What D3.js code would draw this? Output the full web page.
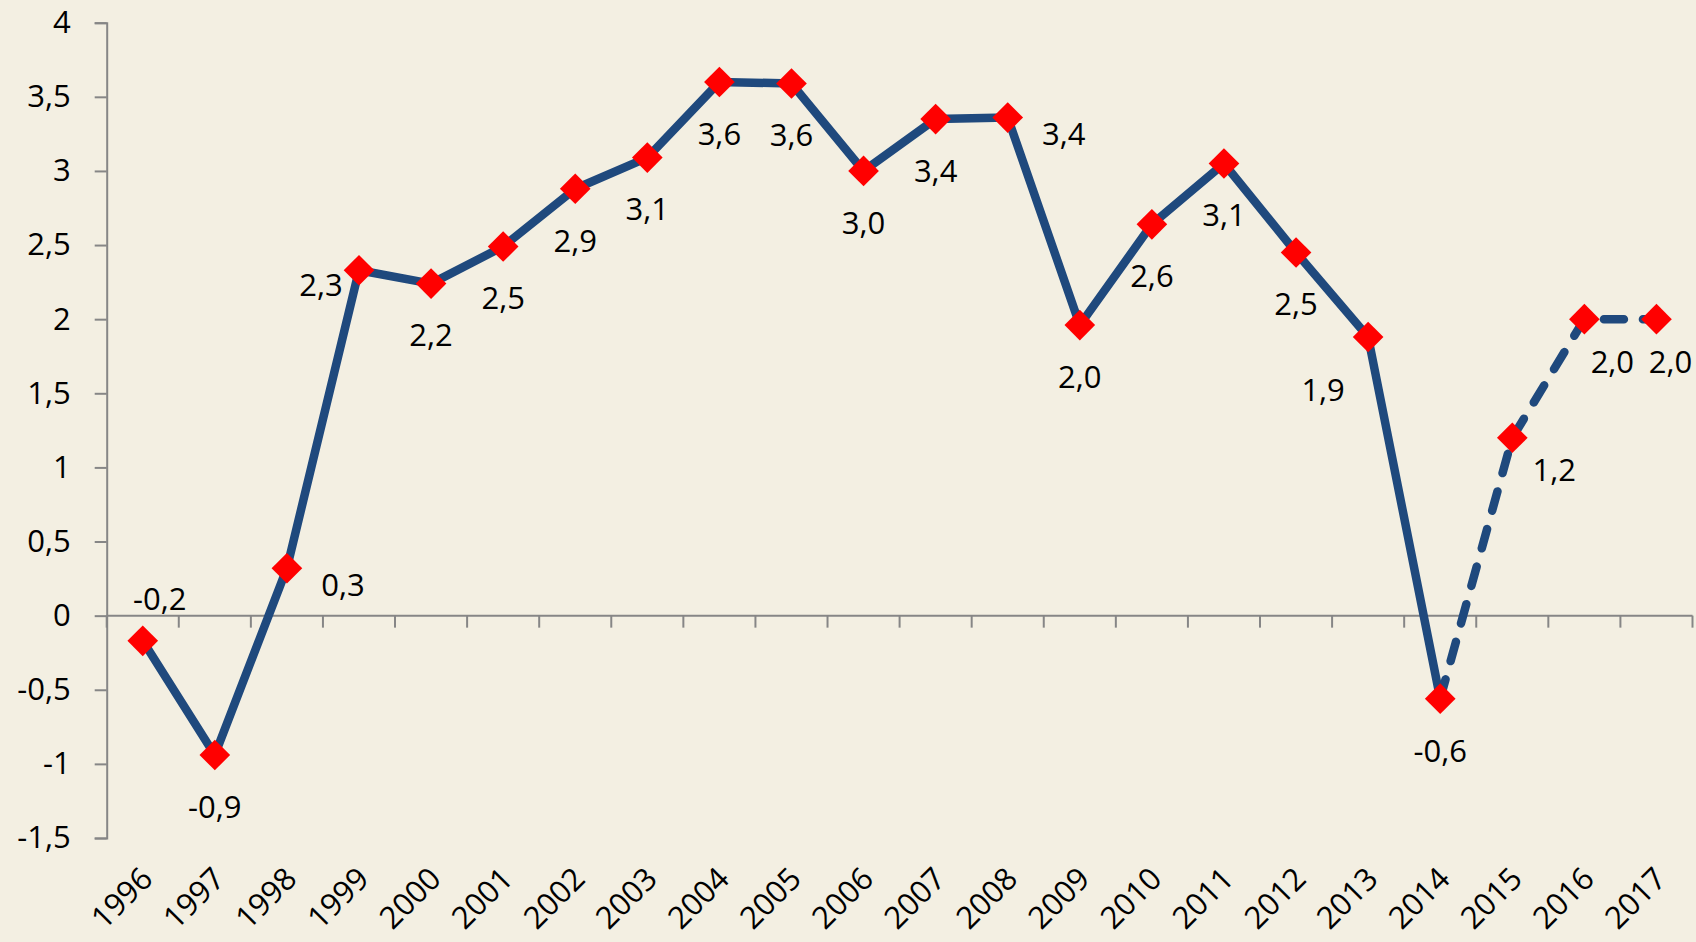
<!DOCTYPE html>
<html>
<head>
    <meta charset="utf-8">
    <title>Line chart 1996-2017</title>
    <script src="https://cdn.jsdelivr.net/npm/d3@7"></script>
    <style>
        body { margin: 0; background: #f3efe2; }
        svg { display: block; }
        text { font-family: "Open Sans", "Liberation Sans", sans-serif; fill: #000; }
    </style>
</head>
<body>
<svg id="chart" width="1696" height="942"></svg>
<script>
// data
let years = ["1996","1997","1998","1999","2000","2001","2002","2003","2004","2005","2006",
             "2007","2008","2009","2010","2011","2012","2013","2014","2015","2016","2017"]
let values = [-0.17, -0.94, 0.32, 2.33, 2.24, 2.49, 2.88, 3.09, 3.60, 3.59, 3.00,
              3.35, 3.36, 1.96, 2.64, 3.05, 2.45, 1.88, -0.56, 1.20, 2.00, 2.00]
let labels = ["-0,2","-0,9","0,3","2,3","2,2","2,5","2,9","3,1","3,6","3,6","3,0",
              "3,4","3,4","2,0","2,6","3,1","2,5","1,9","-0,6","1,2","2,0","2,0"]
// where each data label sits relative to its marker
let labelPlace = ["aboveRight","below","right","left","below","below","below","below","below","below","below",
                  "below","right","below","below","below","below","belowLeft","below","belowRight","belowRight2","belowRight3"]
let forecastFrom = "2014"   // dashed line starts here
let yTicks = [-1.5, -1, -0.5, 0, 0.5, 1, 1.5, 2, 2.5, 3, 3.5, 4]

let svg = d3.select("#chart")
let fontSize = 31
let lineColor = "#1f497d"
let axisColor = "#868686"

let x = d3.scaleBand().domain(years).range([106.7, 1692.5]).padding(0)
let y = d3.scaleLinear().domain([-1.5, 4]).range([838, 22.7])
let cx = d => x(d) + x.bandwidth() / 2

// y axis
let yAxis = svg.append("g")
    .attr("transform", "translate(106.7,0)")
    .call(d3.axisLeft(y).tickValues(yTicks).tickSizeOuter(0).tickSize(12).tickPadding(24)
        .tickFormat(d => String(d).replace(".", ",")))
yAxis.select(".domain").attr("stroke", axisColor).attr("stroke-width", 2)
yAxis.selectAll(".tick line").attr("stroke", axisColor).attr("stroke-width", 2)
yAxis.selectAll(".tick text").style("font-size", fontSize + "px").attr("fill", "#000")

// x axis line at zero with ticks between categories
let xg = svg.append("g")
xg.append("line")
    .attr("x1", x.range()[0]).attr("x2", x.range()[1])
    .attr("y1", y(0)).attr("y2", y(0))
    .attr("stroke", axisColor).attr("stroke-width", 2)
let bounds = years.map(d => x(d)).concat([x.range()[1]])
xg.selectAll(".bt").data(bounds).enter().append("line")
    .attr("x1", d => d).attr("x2", d => d)
    .attr("y1", y(0)).attr("y2", y(0) + 12)
    .attr("stroke", axisColor).attr("stroke-width", 2)

// category labels, rotated
xg.selectAll(".yl").data(years).enter().append("text")
    .attr("transform", d => "translate(" + (cx(d) + 4) + ",873) rotate(-45)")
    .attr("text-anchor", "end")
    .attr("dy", "0.35em")
    .style("font-size", fontSize + "px")
    .text(d => d)

// lines
let pts = years.map((d, i) => ({year: d, value: values[i], label: labels[i], place: labelPlace[i]}))
let split = years.indexOf(forecastFrom)
let line = d3.line().x(d => cx(d.year)).y(d => y(d.value))

svg.append("path")
    .datum(pts.slice(0, split + 1))
    .attr("d", line)
    .attr("fill", "none")
    .attr("stroke", lineColor)
    .attr("stroke-width", 8.5)
    .attr("stroke-linejoin", "round")

svg.append("path")
    .datum(pts.slice(split))
    .attr("d", line)
    .attr("fill", "none")
    .attr("stroke", lineColor)
    .attr("stroke-width", 8.5)
    .attr("stroke-linecap", "round")
    .attr("stroke-dasharray", "20 19")

// markers
svg.selectAll(".mk").data(pts).enter().append("path")
    .attr("d", d3.symbol(d3.symbolSquare, 470))
    .attr("transform", d => "translate(" + cx(d.year) + "," + y(d.value) + ") rotate(45)")
    .attr("fill", "#ff0000")

// data labels
let offsets = {
    below: [0, 52], aboveRight: [17, -42], right: [56, 17], left: [-38, 15],
    belowLeft: [-45, 53], belowRight: [42, 32], belowRight2: [28, 43], belowRight3: [14, 43]
}
svg.selectAll(".dl").data(pts).enter().append("text")
    .attr("x", d => cx(d.year) + offsets[d.place][0])
    .attr("y", d => y(d.value) + offsets[d.place][1])
    .attr("text-anchor", "middle")
    .attr("dy", "0.35em")
    .style("font-size", fontSize + "px")
    .text(d => d.label)
</script>
</body>
</html>
